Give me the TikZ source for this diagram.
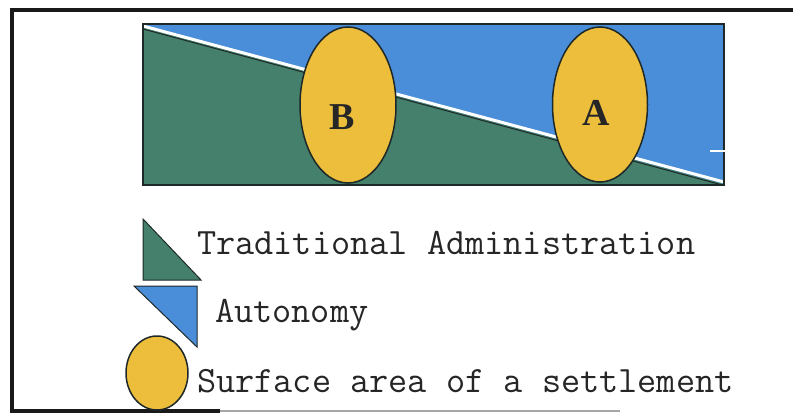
\documentclass[tikz,border=0pt]{standalone}
\usepackage{fontspec}
\setmainfont{Liberation Serif}
\usetikzlibrary{shapes.geometric}
\definecolor{autoblue}{RGB}{74,142,218}
\definecolor{tradgreen}{RGB}{68,128,108}
\definecolor{settleyellow}{RGB}{236,190,60}
\definecolor{edgedark}{RGB}{30,40,40}
\tikzset{
  frameline/.style={line width=4pt, black!90},
  settle/.style={ellipse, draw=edgedark, line width=1.5pt, fill=settleyellow, inner sep=0pt},
  letter/.style={font=\fontsize{38}{38}\selectfont\bfseries, text=black!85},
  legendtext/.style={font=\ttfamily\fontsize{37.2}{38}\selectfont, anchor=base west, inner sep=0pt, text=black!85},
}
\begin{document}
\begin{tikzpicture}[x=1pt,y=-1pt]
\useasboundingbox (0,0) rectangle (793,415);
% frame
\draw[frameline] (793,10) -- (12,10) -- (12,411) -- (220,411);
\draw[line width=2pt, black!35] (220,411) -- (620,411);
% main band
\fill[autoblue] (143,24) rectangle (724,185);
\fill[tradgreen] (143,27) -- (724,184) -- (724,185) -- (143,185) -- cycle;
\draw[edgedark, line width=1pt] (143,29) -- (724,185.5);
\draw[white, line width=3pt] (143,26) -- (724,182);
\draw[edgedark, line width=1.2pt] (143,24) rectangle (724,185);
\draw[white, line width=1.2pt] (710,151) -- (733,151);
% settlements
\node[settle, minimum width=96pt, minimum height=156pt] (B) at (348,105) {};
\node[settle, minimum width=95pt, minimum height=155pt] (A) at (600,104.5) {};
\node[letter] (Blabel) at (342,117) {B};
\node[letter] (Alabel) at (596,113) {A};
% legend
\filldraw[fill=tradgreen, draw=edgedark, line width=1pt] (143,219) -- (201,280) -- (143,280) -- cycle;
\filldraw[fill=autoblue, draw=edgedark, line width=1pt] (134,286) -- (197,286) -- (197,347) -- cycle;
\node[settle, minimum width=62pt, minimum height=74pt] (Leg) at (157,373) {};
\node[legendtext] (T1) at (197,254) {Traditional Administration};
\node[legendtext] (T2) at (215,322) {Autonomy};
\node[legendtext] (T3) at (197,392) {Surface area of a settlement};
\end{tikzpicture}
\end{document}
